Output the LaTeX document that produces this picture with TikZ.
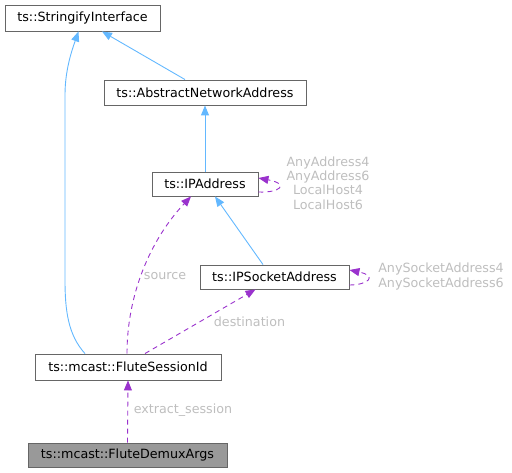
\documentclass[tikz,border=0pt]{standalone}
\usepackage{fontspec}
\setmainfont{DejaVu Sans}
\usetikzlibrary{arrows.meta}
\definecolor{boxline}{HTML}{666666}
\definecolor{boxgrey}{HTML}{999999}
\definecolor{inhblue}{HTML}{63B8FF}
\definecolor{usepurple}{HTML}{9A32CD}
\definecolor{lblgrey}{HTML}{BEBEBE}
\newcommand{\dfont}{\fontsize{12.7pt}{14.2pt}\selectfont}
\tikzset{
  cls/.style={draw=boxline, fill=white, line width=0.9pt, font=\dfont, inner sep=0pt, text=black},
  inh/.style={draw=inhblue, line width=0.9pt, -{Triangle[length=10pt,width=8pt]}},
  usage/.style={draw=usepurple, line width=0.9pt, dash pattern=on 5pt off 4pt, -{Triangle[length=10pt,width=8pt]}},
  lbl/.style={font=\dfont, text=lblgrey, inner sep=0pt, align=center},
}
\begin{document}
\begin{tikzpicture}[x=1pt,y=-1pt]
\useasboundingbox (0,0) rectangle (512,473);
\node[cls, minimum width=155pt, minimum height=26pt] (si) at (82.5,18) {ts::StringifyInterface};
\node[cls, minimum width=202pt, minimum height=25pt] (ana) at (205,92.5) {ts::AbstractNetworkAddress};
\node[cls, minimum width=106pt, minimum height=24pt] (ip) at (205,184) {ts::IPAddress};
\node[cls, minimum width=149pt, minimum height=24pt] (ips) at (274.5,277) {ts::IPSocketAddress};
\node[cls, minimum width=186pt, minimum height=26pt] (fsi) at (128,367) {ts::mcast::FluteSessionId};
\node[cls, fill=boxgrey, minimum width=199pt, minimum height=24pt] (fda) at (127.5,455) {ts::mcast::FluteDemuxArgs};

% inheritance
\draw[inh] ([xshift=-20pt]ana.north) -- ([xshift=19.5pt]si.south);
\draw[inh] ([xshift=-43pt]fsi.north) .. controls (68,335) and (65,310) .. (65,280) -- (65,95) .. controls (65,70) and (72,50) .. ([xshift=-4pt]si.south);
\draw[inh] (ip.north) -- (ana.south);
\draw[inh] ([xshift=-11.5pt]ips.north) -- ([xshift=10pt]ip.south);

% usage
\draw[usage] ([yshift=-8pt]ip.east) .. controls (280,193) and (290,184) .. ([yshift=6pt]ip.east);
\node[lbl] (iplbl) at (328,183) {AnyAddress4\\AnyAddress6\\LocalHost4\\LocalHost6};
\draw[usage] ([yshift=-8pt]ips.east) .. controls (368,285) and (378,276) .. ([yshift=7pt]ips.east);
\node[lbl] (ipslbl) at (441,276.5) {AnySocketAddress4\\AnySocketAddress6};
\draw[usage] ([xshift=-1pt]fsi.north) .. controls (127,295) and (150,240) .. ([xshift=-14pt]ip.south);
\node[lbl] (srclbl) at (165,276) {source};
\draw[usage] ([xshift=17pt]fsi.north) -- ([xshift=-19pt]ips.south);
\node[lbl] (dstlbl) at (249.5,321.5) {destination};
\draw[usage] (fda.north) -- (fsi.south);
\node[lbl] (exlbl) at (183,410) {extract\_session};
\end{tikzpicture}
\end{document}
